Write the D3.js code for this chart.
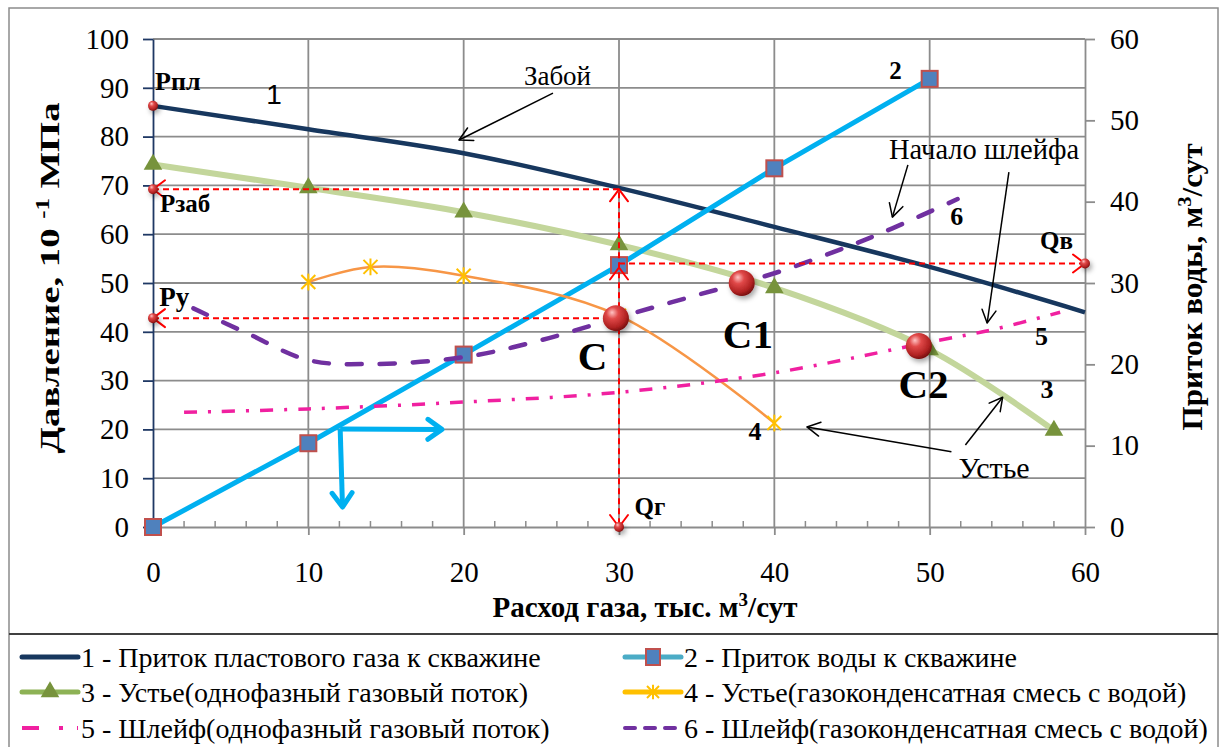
<!DOCTYPE html>
<html>
<head>
<meta charset="UTF-8">
<title>Давление и приток воды</title>
<script src="https://cdnjs.cloudflare.com/ajax/libs/d3/7.8.5/d3.min.js"></script>
<style>
  body { margin: 0; background: #fff; }
  text { font-family: "Liberation Serif", "Times New Roman", serif; fill: #000; }
</style>
</head>
<body>
<script>
// ---- data ----
// 1 - gas inflow to the well (left axis)
var gasX = [0, 10, 20, 30, 40, 50, 60];
var gasP = [86.3, 81.5, 76.6, 69.5, 61.5, 53.3, 44.0];
// 2 - water inflow (right axis)
var waterX = [0, 10, 20, 30, 40, 50];
var waterQ = [0, 10.3, 21.2, 32.2, 44.1, 55.1];
// 3 - wellhead, single phase gas
var wellX = [0, 10, 20, 30, 40, 50, 58];
var wellP = [74.3, 69.5, 64.5, 57.8, 49.0, 36.3, 19.8];
// 4 - wellhead, gas-condensate mix with water
var mixX = [10, 14, 20, 30, 40];
var mixP = [50.2, 53.3, 51.5, 43.3, 21.3];
// 5 - flowline, single phase gas
var lineX = [2, 10, 20, 30, 40, 50, 54, 58.4];
var lineP = [23.5, 24.2, 25.6, 27.6, 31.6, 37.9, 40.4, 44.0];
// 6 - flowline, gas-condensate mix with water
var lineMixX = [2.6, 6, 10, 14, 20, 25, 30, 35, 40, 45, 47.6, 51.8];
var lineMixP = [44.8, 39.8, 34.2, 33.4, 34.8, 38.3, 43.0, 47.5, 52.0, 57.8, 61.2, 67.2];

// operating points C, C1, C2
var opNames = ["C", "C1", "C2"];
var opX = [29.8, 37.9, 49.3];
var opP = [42.8, 50.0, 37.1];

// characteristic values
var pPl = 86.3, pZab = 69.2, pU = 42.8, qG = 30, qV = 32.4;

var xTicks = [0, 10, 20, 30, 40, 50, 60];
var yTicks = [0, 10, 20, 30, 40, 50, 60, 70, 80, 90, 100];
var y2Ticks = [0, 10, 20, 30, 40, 50, 60];

var legendNames = [
  "1 - Приток пластового газа к скважине",
  "2 - Приток воды к скважине",
  "3 - Устье(однофазный газовый поток)",
  "4 - Устье(газоконденсатная смесь с водой)",
  "5 - Шлейф(однофазный  газовый поток)",
  "6 - Шлейф(газоконденсатная смесь с водой)"
];

// ---- layout ----
var W = 1224, H = 747;
var svg = d3.select("body").append("svg").attr("width", W).attr("height", H);

var x = d3.scaleLinear().domain([0, 60]).range([153, 1085]);
var y = d3.scaleLinear().domain([0, 100]).range([527, 39]);
var y2 = d3.scaleLinear().domain([0, 60]).range([527, 39]);

var defs = svg.append("defs");
var grad = defs.append("radialGradient").attr("id", "ball")
  .attr("cx", "40%").attr("cy", "35%").attr("r", "65%").attr("fx", "35%").attr("fy", "28%");
grad.append("stop").attr("offset", "0%").attr("stop-color", "#ffc4c4");
grad.append("stop").attr("offset", "35%").attr("stop-color", "#e04848");
grad.append("stop").attr("offset", "80%").attr("stop-color", "#b02222");
grad.append("stop").attr("offset", "100%").attr("stop-color", "#7a1010");
var shadow = defs.append("filter").attr("id", "shadow")
  .attr("x", "-50%").attr("y", "-50%").attr("width", "200%").attr("height", "200%");
shadow.append("feDropShadow").attr("dx", 2).attr("dy", 3).attr("stdDeviation", 2.5)
  .attr("flood-color", "#000").attr("flood-opacity", 0.35);

// outer frame and legend separator
svg.append("rect").attr("x", 9).attr("y", 8).attr("width", 1209).attr("height", 760)
  .attr("fill", "none").attr("stroke", "#8c8c8c").attr("stroke-width", 1.5);
svg.append("line").attr("x1", 9).attr("x2", 1218).attr("y1", 634).attr("y2", 634)
  .attr("stroke", "#404040").attr("stroke-width", 2);

// ---- grid ----
var grid = svg.append("g").attr("stroke", "#8c8c8c").attr("stroke-width", 1.8);
grid.selectAll(".h").data(yTicks.slice(1)).enter().append("line")
  .attr("x1", x(0)).attr("x2", x(60))
  .attr("y1", function (d) { return y(d); }).attr("y2", function (d) { return y(d); });
grid.selectAll(".v").data(xTicks.slice(1, -1)).enter().append("line")
  .attr("y1", y(100)).attr("y2", y(0))
  .attr("x1", function (d) { return x(d); }).attr("x2", function (d) { return x(d); });

// ---- axes ----
function styleAxis(g, color, fs) {
  g.attr("font-family", null);
  g.select(".domain").attr("stroke", color).attr("stroke-width", 1.8);
  g.selectAll(".tick line").attr("stroke", color).attr("stroke-width", 1.8);
  g.selectAll(".tick text").style("font-family", "'Liberation Serif', serif").style("font-size", fs + "px").attr("fill", "#000");
}

var xAxis = svg.append("g").attr("transform", "translate(0," + y(0) + ")")
  .call(d3.axisBottom(x).tickValues(xTicks).tickSize(8).tickSizeOuter(0).tickPadding(26));
styleAxis(xAxis, "#8c8c8c", 29);

// minor ticks on the category axis
svg.append("g").selectAll("line")
  .data(d3.range(0, 61, 2).filter(function (d) { return d % 10 !== 0; }))
  .enter().append("line")
  .attr("x1", function (d) { return x(d); }).attr("x2", function (d) { return x(d); })
  .attr("y1", y(0) - 6).attr("y2", y(0))
  .attr("stroke", "#8c8c8c").attr("stroke-width", 1.5);

var yAxis = svg.append("g").attr("transform", "translate(" + x(0) + ",0)")
  .call(d3.axisLeft(y).tickValues(yTicks).tickSize(10).tickSizeOuter(0).tickPadding(14));
styleAxis(yAxis, "#1f3864", 29);

var y2Axis = svg.append("g").attr("transform", "translate(" + x(60) + ",0)")
  .call(d3.axisRight(y2).tickValues(y2Ticks).tickSize(10).tickSizeOuter(0).tickPadding(15));
styleAxis(y2Axis, "#8c8c8c", 29);

// axis titles
var lt = svg.append("text").attr("transform", "translate(59,278) rotate(-90)")
  .attr("text-anchor", "middle").style("font-size", "28px").style("font-weight", "bold")
  .attr("textLength", 351).attr("lengthAdjust", "spacingAndGlyphs");
lt.append("tspan").text("Давление, 10 ");
lt.append("tspan").text("-1").style("font-size", "18px").attr("dy", -10);
lt.append("tspan").text(" МПа").attr("dy", 10);

var rt = svg.append("text").attr("transform", "translate(1202,287) rotate(-90)")
  .attr("text-anchor", "middle").style("font-size", "29px").style("font-weight", "bold")
  .attr("textLength", 287).attr("lengthAdjust", "spacingAndGlyphs");
rt.append("tspan").text("Приток воды, м");
rt.append("tspan").text("3").style("font-size", "19px").attr("dy", -11);
rt.append("tspan").text("/сут").attr("dy", 11);

var bt = svg.append("text").attr("x", 645).attr("y", 617)
  .attr("text-anchor", "middle").style("font-size", "29px").style("font-weight", "bold");
bt.append("tspan").text("Расход газа, тыс. м");
bt.append("tspan").text("3").style("font-size", "19px").attr("dy", -11);
bt.append("tspan").text("/сут").attr("dy", 11);

// ---- series ----
function pts(xs, ys, sy) {
  return xs.map(function (d, i) { return [x(d), sy(ys[i])]; });
}
var smooth = d3.line().curve(d3.curveCatmullRom.alpha(0.5));

// 3 - wellhead single phase
svg.append("path").attr("d", smooth(pts(wellX, wellP, y)))
  .attr("fill", "none").attr("stroke", "#c3d69b").attr("stroke-width", 6);
svg.append("g").selectAll("path").data(pts(wellX, wellP, y)).enter().append("path")
  .attr("d", d3.symbol().type(d3.symbolTriangle).size(150))
  .attr("transform", function (d) { return "translate(" + d[0] + "," + d[1] + ")"; })
  .attr("fill", "#77933c");

// 1 - gas inflow
svg.append("path").attr("d", smooth(pts(gasX, gasP, y)))
  .attr("fill", "none").attr("stroke", "#17375e").attr("stroke-width", 4.5);

// 2 - water inflow
svg.append("path").attr("d", d3.line()(pts(waterX, waterQ, y2)))
  .attr("fill", "none").attr("stroke", "#00b0f0").attr("stroke-width", 5);
svg.append("g").selectAll("rect").data(pts(waterX, waterQ, y2)).enter().append("rect")
  .attr("x", function (d) { return d[0] - 8; }).attr("y", function (d) { return d[1] - 8; })
  .attr("width", 16).attr("height", 16)
  .attr("fill", "#4f81bd").attr("stroke", "#c0504d").attr("stroke-width", 2);

// 4 - wellhead mix
svg.append("path").attr("d", smooth(pts(mixX, mixP, y)))
  .attr("fill", "none").attr("stroke", "#f79646").attr("stroke-width", 2.5);
function star(g, cx, cy, r, color, w) {
  var s = g.append("g").attr("stroke", color).attr("stroke-width", w);
  s.append("line").attr("x1", cx - r).attr("y1", cy - r).attr("x2", cx + r).attr("y2", cy + r);
  s.append("line").attr("x1", cx - r).attr("y1", cy + r).attr("x2", cx + r).attr("y2", cy - r);
  s.append("line").attr("x1", cx).attr("y1", cy - r * 1.2).attr("x2", cx).attr("y2", cy + r * 1.2);
}
var stars = svg.append("g");
pts(mixX, mixP, y).forEach(function (d) { star(stars, d[0], d[1], 7, "#ffc000", 2); });

// 5 - flowline single phase
svg.append("path").attr("d", smooth(pts(lineX, lineP, y)))
  .attr("fill", "none").attr("stroke", "#f020a0").attr("stroke-width", 3.5)
  .attr("stroke-dasharray", "13,11,3,11");

// 6 - flowline mix
svg.append("path").attr("d", smooth(pts(lineMixX, lineMixP, y)))
  .attr("fill", "none").attr("stroke", "#7030a0").attr("stroke-width", 4.5)
  .attr("stroke-linecap", "round").attr("stroke-dasharray", "15,18");

// ---- arrows helper ----
function head(g, x1, y1, x2, y2, len, half, color, w) {
  var a = Math.atan2(y2 - y1, x2 - x1);
  var bx = x2 - len * Math.cos(a), by = y2 - len * Math.sin(a);
  var nx = -Math.sin(a) * half, ny = Math.cos(a) * half;
  g.append("path").attr("d", "M" + (bx + nx) + "," + (by + ny) + "L" + x2 + "," + y2 + "L" + (bx - nx) + "," + (by - ny))
    .attr("fill", "none").attr("stroke", color).attr("stroke-width", w)
    .attr("stroke-linecap", "round").attr("stroke-linejoin", "round");
}
function arrow(g, x1, y1, x2, y2, len, half, color, w, dash) {
  g.append("line").attr("x1", x1).attr("y1", y1).attr("x2", x2).attr("y2", y2)
    .attr("stroke", color).attr("stroke-width", w).attr("stroke-dasharray", dash || null);
  head(g, x1, y1, x2, y2, len, half, color, w);
}

// red dashed construction lines
var red = svg.append("g");
var rc = "#ff0000", rd = "6,4";
arrow(red, x(qG), y(pZab), x(0), y(pZab), 12, 9, rc, 2, rd);
arrow(red, x(qG), y(pU), x(0), y(pU), 12, 9, rc, 2, rd);
arrow(red, x(qG), y(pU), x(qG), y(pZab), 12, 9, rc, 2, rd);
head(red, x(qG), y(pU), x(qG), y2(qV) + 4, 12, 9, rc, 2);
arrow(red, x(qG), y(pU), x(qG), y(0), 12, 9, rc, 2, rd);
arrow(red, x(qG), y2(qV), x(60), y2(qV), 12, 9, rc, 2, rd);

// blue direction arrows
var blue = svg.append("g");
arrow(blue, x(12.05), y(20.1), x(18.6), y(20.0), 14, 10, "#00b0f0", 5);
arrow(blue, x(12.05), y(20.1), x(12.2), y(4.1), 14, 10, "#00b0f0", 5);

// black annotation arrows
var blk = svg.append("g");
arrow(blk, x(25.75), y(88.9), x(19.7), y(79.3), 13, 7, "#000", 1.5);
arrow(blk, x(48.6), y(74.2), x(47.6), y(63.5), 13, 7, "#000", 1.5);
arrow(blk, x(55.1), y(72.7), x(53.7), y(41.8), 13, 7, "#000", 1.5);
arrow(blk, x(51.4), y(15.4), x(42.1), y(20.5), 13, 7, "#000", 1.5);
arrow(blk, x(52.3), y(16.8), x(54.7), y(26.6), 13, 7, "#000", 1.5);

// ---- balls ----
var balls = svg.append("g").attr("filter", "url(#shadow)");
balls.selectAll("circle.op").data(opX).enter().append("circle")
  .attr("cx", function (d) { return x(d); }).attr("cy", function (d, i) { return y(opP[i]); })
  .attr("r", 13).attr("fill", "url(#ball)");
var small = [[0, pPl, y], [0, pZab, y], [0, pU, y], [qG, 0, y], [60, qV, y2]];
balls.selectAll("circle.sm").data(small).enter().append("circle")
  .attr("cx", function (d) { return x(d[0]); }).attr("cy", function (d) { return d[2](d[1]); })
  .attr("r", 5).attr("fill", "url(#ball)");

// ---- labels ----
function label(tx, ty, s, fs, bold, anchor, family) {
  svg.append("text").attr("x", x(tx)).attr("y", y(ty)).text(s)
    .attr("text-anchor", anchor || "start")
    .style("font-size", fs + "px").style("font-weight", bold ? "bold" : "normal")
    .style("font-family", family || null);
}
label(0.13, 89.5, "Рпл", 26, true);
label(7.8, 86.7, "1", 28, false, "middle", "Liberation Sans");
label(0.45, 64.6, "Рзаб", 25, true);
label(0.4, 45.2, "Ру", 27, true);
label(31.0, 2.5, "Qг", 25, true);
label(57.1, 57.0, "Qв", 25, true);
label(47.8, 91.8, "2", 25, true, "middle");
label(51.75, 61.9, "6", 26, true, "middle");
label(57.2, 37.3, "5", 26, true, "middle");
label(57.55, 26.4, "3", 26, true, "middle");
label(38.75, 17.8, "4", 26, true, "middle");
opNames.forEach(function (n, i) {
  var lx = [28.3, 38.3, 49.6][i], ly = [32.2, 36.7, 26.4][i];
  label(lx, ly, n, 41, true, "middle");
});
label(26.04, 90.6, "Забой", 27, false, "middle");
label(53.5, 75.4, "Начало шлейфа", 28.5, false, "middle");
label(54.15, 10.0, "Устье", 30, false, "middle");

// ---- legend ----
var legX = [22, 625], legY = [657, 692, 728];
var leg = svg.append("g");
legendNames.forEach(function (n, i) {
  var lx = legX[i % 2], ly = legY[Math.floor(i / 2)];
  var g = leg.append("g");
  var ln = g.append("line").attr("x1", lx).attr("x2", lx + 56).attr("y1", ly).attr("y2", ly)
    .attr("stroke-width", 5).attr("stroke-linecap", "round");
  if (i === 0) ln.attr("stroke", "#17375e");
  if (i === 1) {
    ln.attr("stroke", "#4bacc6");
    g.append("rect").attr("x", lx + 21).attr("y", ly - 8).attr("width", 14).attr("height", 16)
      .attr("fill", "#4f81bd").attr("stroke", "#c0504d").attr("stroke-width", 2);
  }
  if (i === 2) {
    ln.attr("stroke", "#8db255");
    g.append("path").attr("d", d3.symbol().type(d3.symbolTriangle).size(150))
      .attr("transform", "translate(" + (lx + 28) + "," + ly + ")").attr("fill", "#77933c");
  }
  if (i === 3) {
    ln.attr("stroke", "#ffc000");
    star(g, lx + 28, ly, 6, "#ffc000", 2);
  }
  if (i === 4) ln.attr("stroke", "#f020a0").attr("stroke-width", 4).attr("stroke-linecap", "butt").attr("stroke-dasharray", "17,20,4,14");
  if (i === 5) ln.attr("stroke", "#7030a0").attr("stroke-width", 4).attr("stroke-dasharray", "10,10");
  g.append("text").attr("x", lx + 59).attr("y", ly + 10).text(n).style("font-size", "28px");
});
</script>
</body>
</html>
